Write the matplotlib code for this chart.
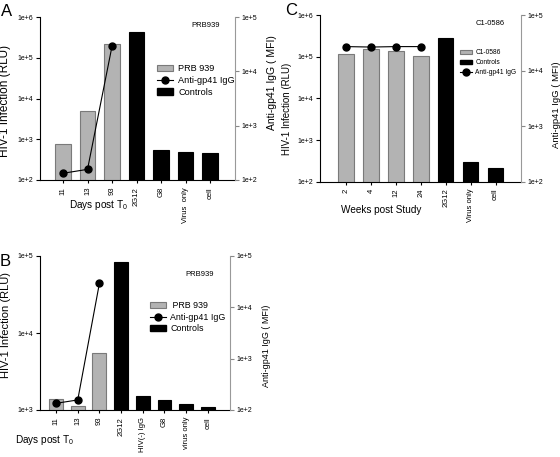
import math

import matplotlib
matplotlib.use("Agg")
import matplotlib.pyplot as plt
from matplotlib.patches import Patch
from matplotlib.lines import Line2D
from matplotlib.ticker import FixedLocator, FuncFormatter, NullLocator

plt.rcParams["font.family"] = ["Liberation Sans", "DejaVu Sans"]

# ---- data ----
a_labels = ["11", "13", "93", "2G12", "G8", "Virus  only", "cell"]
a_sample = [760, 4900, 2.2e5]
a_controls = [4.4e5, 540, 480, 470]
a_igg = [133, 157, 2.9e4]

b_labels = ["11", "13", "93", "2G12", "HIV(-) IgG", "G8", "virus only", "cell"]
b_sample = [1390, 1130, 5450]
b_controls = [8.3e4, 1530, 1350, 1210, 1100]
b_igg = [135, 157, 2.95e4]

c_labels = ["2", "4", "12", "24", "2G12", "Virus only", "cell"]
c_sample = [1.15e5, 1.5e5, 1.36e5, 1.02e5]
c_controls = [2.8e5, 290, 210]
c_igg = [2.7e4, 2.65e4, 2.7e4, 2.7e4]

GREY = "#b3b3b3"
GREY_EDGE = "#7a7a7a"
W, H = 560, 457


def fmt_pow(v, _pos=None):
    return "1e+%d" % round(math.log10(v))


def panel(rect, labels, sample, controls, igg, ylim, y2lim, xlim, width,
          sample_name, note, note_xy, xlabel, xlabel_xy, order,
          leg_xy, leg_fs, leg_sp, ylab_fs, ylab_xy, y2lab_fs, y2lab_xy,
          xtick_fs=5.5):
    l, t, r, b = rect
    ax = plt.gcf().add_axes([l / W, 1 - b / H, (r - l) / W, (b - t) / H])
    ax.set_yscale("log")
    ns = len(sample)
    xs = list(range(ns))
    xc = list(range(ns, ns + len(controls)))
    ax.bar(xs, sample, width=width, color=GREY, edgecolor=GREY_EDGE, linewidth=0.8)
    ax.bar(xc, controls, width=width, color="black", edgecolor="black", linewidth=0.8)
    ax.set_ylim(*ylim)
    ax.set_xlim(*xlim)
    ax.set_xticks(range(len(labels)))
    ax.set_xticklabels(labels, rotation=90, fontsize=xtick_fs)
    ax.tick_params(axis="x", length=2, pad=3)
    ax.yaxis.set_major_locator(FixedLocator([10 ** k for k in range(20)]))
    ax.yaxis.set_minor_locator(NullLocator())
    ax.yaxis.set_major_formatter(FuncFormatter(fmt_pow))
    ax.tick_params(axis="y", labelsize=5, length=3, pad=2)
    for s in ("top", "right"):
        ax.spines[s].set_visible(False)
    for s in ("left", "bottom"):
        ax.spines[s].set_linewidth(0.8)
    ax.set_ylabel("HIV-1 Infection (RLU)", fontsize=ylab_fs)
    ax.yaxis.set_label_coords(*ylab_xy)

    ax2 = ax.twinx()
    ax2.set_yscale("log")
    ax2.plot(xs[:len(igg)], igg, color="black", marker="o", markersize=5, linewidth=0.8)
    ax2.set_ylim(*y2lim)
    ax2.yaxis.set_major_locator(FixedLocator([10 ** k for k in range(20)]))
    ax2.yaxis.set_minor_locator(NullLocator())
    ax2.yaxis.set_major_formatter(FuncFormatter(fmt_pow))
    ax2.tick_params(axis="y", labelsize=5, length=3, pad=2, color="#888888")
    for s in ("top", "left", "bottom"):
        ax2.spines[s].set_visible(False)
    ax2.spines["right"].set_color("#999999")
    ax2.spines["right"].set_linewidth(0.8)
    ax2.set_ylabel("Anti-gp41 IgG ( MFI)", fontsize=y2lab_fs)
    ax2.yaxis.set_label_coords(*y2lab_xy)

    ax2.text(note_xy[0], note_xy[1], note, transform=ax.transAxes,
             ha="center", va="center", fontsize=5.5)
    ax.text(xlabel_xy[0], xlabel_xy[1], xlabel, transform=ax.get_xaxis_transform(),
            ha="center", va="center", fontsize=7.2)

    handles = {
        "s": Patch(facecolor=GREY, edgecolor=GREY_EDGE, linewidth=0.8),
        "l": Line2D([], [], color="black", marker="o", markersize=5, linewidth=0.8),
        "c": Patch(facecolor="black", edgecolor="black"),
    }
    names = {"s": sample_name, "l": "Anti-gp41 IgG", "c": "Controls"}
    ax2.legend([handles[k] for k in order], [names[k] for k in order],
               loc="upper left", bbox_to_anchor=leg_xy, frameon=False,
               fontsize=leg_fs, borderpad=0, borderaxespad=0,
               labelspacing=leg_sp, handlelength=1.8, handleheight=0.7,
               handletextpad=0.5)
    return ax


fig = plt.figure(figsize=(W / 100, H / 100), dpi=100)

panel((40, 17, 235, 180), a_labels, a_sample, a_controls, a_igg,
      (1e2, 1e6), (1e2, 1e5), (-0.94, 7.02), 0.62,
      "PRB 939", "PRB939", (0.851, 0.945),
      "Days post T$_\\mathregular{0}$", (1.43, -0.155), "slc",
      (0.60, 0.71), 6.6, 0.3, 8.5, (-0.15, 0.485), 7.5, (1.165, 0.60))

panel((40, 256, 230, 410), b_labels, b_sample, b_controls, b_igg,
      (1e3, 1e5), (1e2, 1e5), (-0.74, 8.02), 0.64,
      " PRB 939", "PRB939", (0.842, 0.877),
      "Days post T$_\\mathregular{0}$", (-0.55, -0.195), "slc",
      (0.579, 0.708), 6.4, 0.3, 8.0, (-0.155, 0.55), 6.5, (1.168, 0.42))

panel((320, 15, 520.7, 181.7), c_labels, c_sample, c_controls, c_igg,
      (1e2, 1e6), (1e2, 1e5), (-1.05, 7.01), 0.62,
      "C1-0586", "C1-0586", (0.85, 0.95),
      "Weeks post Study", (1.39, -0.17), "scl",
      (0.698, 0.794), 4.8, 0.45, 7.0, (-0.141, 0.436), 6.8, (1.158, 0.46))

fig.text(1 / W, 1 - 4 / H, "A", fontsize=12, ha="left", va="top")
fig.text(285 / W, 1 - 3 / H, "C", fontsize=12, ha="left", va="top")
fig.text(0 / W, 1 - 254 / H, "B", fontsize=12, ha="left", va="top")

fig.savefig("out.png", dpi=100)
